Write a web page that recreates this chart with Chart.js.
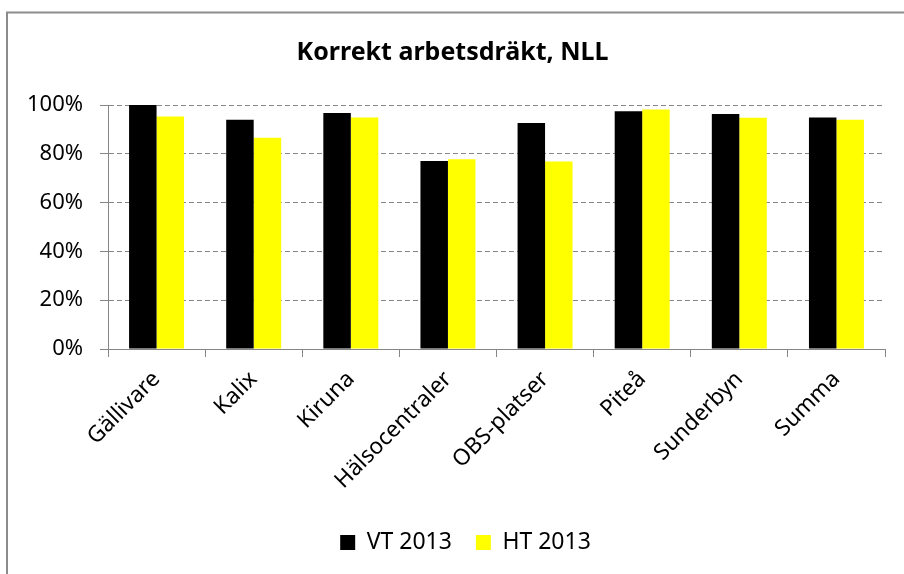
<!DOCTYPE html>
<html>
<head>
<meta charset="utf-8">
<script src="https://cdn.jsdelivr.net/npm/chart.js@4/dist/chart.umd.min.js"></script>
<style>
  body { margin: 0; background: #fff; }
  canvas { display: block; }
</style>
</head>
<body>
<canvas id="myChart" width="904" height="574"></canvas>
<script>
var categories = ["Gällivare", "Kalix", "Kiruna", "Hälsocentraler", "OBS-platser", "Piteå", "Sunderbyn", "Summa"];
var vt2013 = [100, 94.0, 96.7, 77.0, 92.6, 97.4, 96.3, 94.9];
var ht2013 = [95.3, 86.6, 94.9, 77.8, 76.8, 98.2, 94.8, 94.0];
var seriesNames = ["VT 2013", "HT 2013"];
var yTicks = [0, 20, 40, 60, 80, 100];

var fontName = "'Noto Sans', sans-serif";
var axisGray = "#868686";

// outer frame of the chart + nudge legend to the right
var framePlugin = {
  id: "frame",
  afterLayout: function (chart) {
    chart.legend.left += 13;
    chart.legend.right += 13;
  },
  beforeDraw: function (chart) {
    var ctx = chart.ctx;
    ctx.save();
    ctx.fillStyle = "#fff";
    ctx.fillRect(0, 0, chart.width, chart.height);
    ctx.strokeStyle = "#8c8c8c";
    ctx.lineWidth = 2;
    ctx.strokeRect(7, 12.5, 1000, 1000);
    ctx.restore();
  }
};

new Chart("myChart", {
  type: "bar",
  data: {
    labels: categories,
    datasets: [{
      label: seriesNames[0],
      data: vt2013,
      backgroundColor: "#000000",
      borderWidth: 0,
      categoryPercentage: 0.566,
      barPercentage: 1
    }, {
      label: seriesNames[1],
      data: ht2013,
      backgroundColor: "#ffff00",
      borderWidth: 0,
      categoryPercentage: 0.566,
      barPercentage: 1
    }]
  },
  plugins: [framePlugin],
  options: {
    responsive: false,
    animation: false,
    layout: {
      padding: { top: 0, left: 20, right: 19, bottom: 10 }
    },
    plugins: {
      title: {
        display: true,
        text: "Korrekt arbetsdräkt, NLL",
        color: "#000",
        font: { family: fontName, size: 25, weight: "bold" },
        padding: { top: 38, bottom: 37 }
      },
      legend: {
        display: true,
        position: "bottom",
        labels: {
          color: "#000",
          font: { family: fontName, size: 23 },
          boxWidth: 15,
          boxHeight: 15,
          padding: 24
        }
      },
      tooltip: { enabled: false }
    },
    scales: {
      x: {
        grid: {
          display: true,
          offset: true,
          drawOnChartArea: false,
          drawTicks: true,
          tickLength: 8,
          color: axisGray
        },
        border: { display: true, color: axisGray, width: 1 },
        ticks: {
          color: "#000",
          font: { family: fontName, size: 22.5 },
          minRotation: 45,
          maxRotation: 45,
          padding: 9
        },
        afterFit: function (scale) { scale.height = 158; }
      },
      y: {
        min: 0,
        max: 100,
        afterBuildTicks: function (scale) {
          scale.ticks = yTicks.map(function (v) { return { value: v }; });
        },
        grid: {
          color: axisGray,
          lineWidth: 1,
          drawTicks: true,
          tickLength: 8
        },
        border: { display: true, color: axisGray, width: 1, dash: [5, 3] },
        ticks: {
          color: "#000",
          font: { family: fontName, size: 22 },
          padding: 17,
          callback: function (v) { return v + "%"; }
        },
        afterFit: function (scale) { scale.width = 88; }
      }
    }
  }
});
</script>
</body>
</html>
